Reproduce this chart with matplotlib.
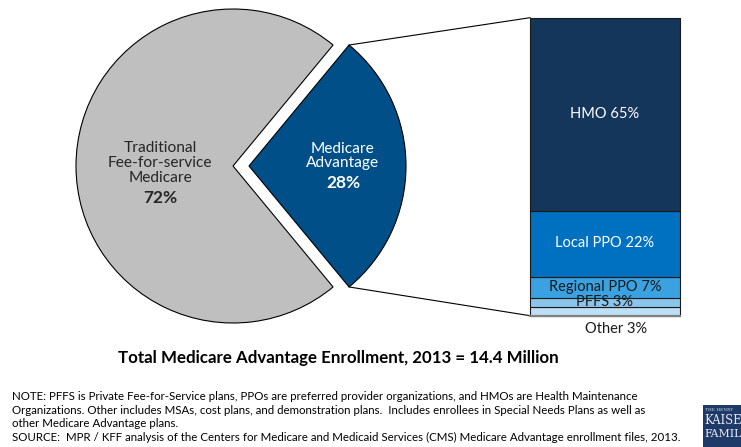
import math
import matplotlib
matplotlib.use("Agg")
import matplotlib.pyplot as plt
from matplotlib.patches import Rectangle

# Medicare enrollment split (percent)
pie_labels = ["Medicare\nAdvantage", "Traditional\nFee-for-service\nMedicare"]
pie_values = [28, 72]
pie_colors = ["#004F88", "#BFBFBF"]

# Medicare Advantage plan types, bottom to top (percent)
plan_labels = ["Other", "PFFS", "Regional PPO", "Local PPO", "HMO"]
plan_values = [3, 3, 7, 22, 65]
plan_colors = ["#BDE0F6", "#8AC6EC", "#3AA2E0", "#0070C0", "#14365A"]
plan_text_colors = ["#1a1a1a", "#1a1a1a", "#1a1a1a", "white", "white"]

title = "Total Medicare Advantage Enrollment, 2013 = 14.4 Million"
note_lines = [
    "NOTE: PFFS is Private Fee-for-Service plans, PPOs are preferred provider organizations, and HMOs are Health Maintenance",
    "Organizations. Other includes MSAs, cost plans, and demonstration plans.  Includes enrollees in Special Needs Plans as well as",
    "other Medicare Advantage plans.",
    "SOURCE:  MPR / KFF analysis of the Centers for Medicare and Medicaid Services (CMS) Medicare Advantage enrollment files, 2013.",
]

plt.rcParams["font.family"] = ["Lato", "DejaVu Sans"]

W, H = 741, 447
fig = plt.figure(figsize=(W / 100, H / 100), dpi=100)
ax = fig.add_axes([0, 0, 1, 1])

# Pie: whole-circle centre and radius in canvas units; Advantage slice pulled out
cx, cy, R = 233, 281, 157
pull = 16
start = -pie_values[0] / 100 * 180
ax.pie(pie_values, colors=pie_colors, startangle=start, counterclock=True,
       center=(cx, cy), radius=R, explode=[pull, 0], frame=True,
       wedgeprops=dict(edgecolor="black", linewidth=0.8))

# Stacked bar for the Medicare Advantage breakdown
bar_x, bar_w = 605, 150
bar_bottom, scale = 131.3, 2.98
bottoms = []
acc = 0
for v in plan_values:
    bottoms.append(acc)
    acc += v
ax.bar([bar_x] * len(plan_values), [v * scale for v in plan_values], width=bar_w,
       bottom=[bar_bottom + b * scale for b in bottoms], color=plan_colors,
       edgecolor="#1a1a1a", linewidth=0.8, zorder=2)
ax.plot([bar_x - bar_w / 2, bar_x + bar_w / 2], [bar_bottom, bar_bottom],
        color="#808080", lw=1.6, zorder=3)

# Connector lines from the pulled-out slice to the bar
half = math.radians(pie_values[0] / 100 * 180)
bx = cx + pull
corner_top = (bx + R * math.cos(half), cy + R * math.sin(half))
corner_bot = (bx + R * math.cos(half), cy - R * math.sin(half))
bar_top = bar_bottom + sum(plan_values) * scale
ax.plot([corner_top[0], bar_x - bar_w / 2], [corner_top[1], bar_top], color="black", lw=0.8, zorder=1)
ax.plot([corner_bot[0], bar_x - bar_w / 2], [corner_bot[1], bar_bottom], color="black", lw=0.8, zorder=1)

# Slice labels
fs = 11.2
ax.text(160, 447 - 163, pie_labels[1], ha="center", va="center",
        fontsize=fs, color="#262626", linespacing=1.05)
ax.text(160, 447 - 198, f"{pie_values[1]}%", ha="center", va="center",
        fontsize=12.5, fontweight="bold", color="#262626")
ax.text(343, 447 - 156, pie_labels[0], ha="center", va="center",
        fontsize=fs, color="white", linespacing=1.05)
ax.text(343, 447 - 183, f"{pie_values[0]}%", ha="center", va="center",
        fontsize=12.5, fontweight="bold", color="white")

# Bar segment labels
label_pos = {"Other": (616, 447 - 329), "PFFS": (605, 447 - 302),
             "Regional PPO": (605, 447 - 287), "Local PPO": (605, 447 - 243),
             "HMO": (605, 447 - 114)}
for lab, v, tc in zip(plan_labels, plan_values, plan_text_colors):
    x, y = label_pos[lab]
    ax.text(x, y, f"{lab} {v}%", ha="center", va="center", fontsize=10.5,
            color=tc, zorder=4)

# Title and notes
ax.text(338, 447 - 358, title, ha="center", va="center", fontsize=12.2,
        fontweight="bold", color="black")
for i, line in enumerate(note_lines):
    ax.text(12, 447 - (397 + i * 13.4), line, ha="left", va="center",
            fontsize=8.3, color="black")

# Foundation logo block at the lower right edge
ax.add_patch(Rectangle((703, 0), 40, 42, facecolor="#1F3A68", edgecolor="none", zorder=2))
ax.text(705, 447 - 410, "THE HENRY", fontsize=3.2, color="#c9d3e3", family="DejaVu Serif",
        va="center", ha="left", zorder=3)
ax.text(704, 447 - 421, "KAISE", fontsize=8.3, color="#e6ebf3", family="DejaVu Serif",
        va="center", ha="left", zorder=3)
ax.text(704, 447 - 434, "FAMIL", fontsize=7.8, color="#e6ebf3", family="DejaVu Serif",
        va="center", ha="left", zorder=3)

ax.set_xlim(0, W)
ax.set_ylim(0, H)
ax.set_aspect("auto")
ax.axis("off")

fig.savefig("out.png", dpi=100)
